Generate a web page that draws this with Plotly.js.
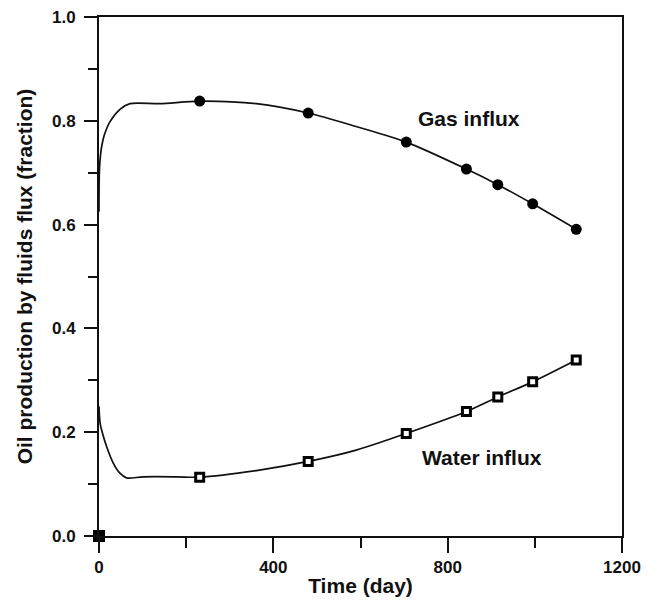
<!DOCTYPE html>
<html>
<head>
<meta charset="utf-8">
<script src="https://cdn.plot.ly/plotly-3.0.1.min.js"></script>
<style>html,body{margin:0;padding:0;background:#fff;}#chart{width:656px;height:602px;}</style>
</head>
<body>
<div id="chart"></div>
<script>
// Curve traces
var gasCurveX = [0, 0.5, 2, 6, 12, 25, 48, 71, 140, 231, 361, 480, 590, 705, 843, 915, 995, 1095];
var gasCurveY = [0.625, 0.69, 0.72, 0.75, 0.772, 0.798, 0.822, 0.833, 0.833, 0.838, 0.833, 0.815, 0.789, 0.759, 0.707, 0.677, 0.640, 0.591];
var waterCurveX = [0, 1, 3, 8, 17.6, 33, 48, 63, 101, 178, 231, 368, 480, 590, 705, 843, 915, 995, 1095];
var waterCurveY = [0.25, 0.232, 0.215, 0.198, 0.172, 0.140, 0.121, 0.112, 0.114, 0.114, 0.1134, 0.127, 0.1437, 0.1655, 0.1977, 0.240, 0.268, 0.297, 0.339];
// Marker points
var gasPtsX = [231, 480, 705, 843, 915, 995, 1095];
var gasPtsY = [0.838, 0.815, 0.759, 0.707, 0.677, 0.640, 0.591];
var waterPtsX = [231, 480, 705, 843, 915, 995, 1095];
var waterPtsY = [0.1134, 0.1437, 0.1977, 0.240, 0.268, 0.297, 0.339];
var originX = [0];
var originY = [0];
var xTickVals = [0, 400, 800, 1200];
var yTickVals = [0, 0.2, 0.4, 0.6, 0.8, 1.0];
var labels = ["Gas influx", "Water influx"];
var labelX = [849, 878];
var labelY = [0.804, 0.151];

var FONT = "Liberation Sans, Arial, sans-serif";
var traces = [
  {x: gasCurveX, y: gasCurveY, mode: "lines", line: {color: "#111", width: 1.7, shape: "spline", smoothing: 0.8}, hoverinfo: "skip", cliponaxis: false},
  {x: waterCurveX, y: waterCurveY, mode: "lines", line: {color: "#111", width: 1.7, shape: "spline", smoothing: 0.8}, hoverinfo: "skip", cliponaxis: false},
  {x: gasPtsX, y: gasPtsY, mode: "markers", marker: {symbol: "circle", size: 11, color: "#000"}},
  {x: waterPtsX, y: waterPtsY, mode: "markers", marker: {symbol: "square", size: 8, color: "#fff", line: {color: "#000", width: 3}}},
  {x: originX, y: originY, mode: "markers", marker: {symbol: "square", size: 12, color: "#000"}, cliponaxis: false}
];

var annotations = labels.map(function(t, i){
  return {x: labelX[i], y: labelY[i], xref: "x", yref: "y", text: t, showarrow: false,
          font: {family: FONT, size: 21, color: "#111", weight: 700}};
});

var layout = {
  width: 656, height: 602,
  margin: {l: 99, r: 34, t: 17, b: 66},
  paper_bgcolor: "#fff", plot_bgcolor: "#fff",
  showlegend: false,
  font: {family: FONT, color: "#111"},
  xaxis: {
    range: [0, 1200], tickvals: xTickVals, ticktext: xTickVals.map(String),
    ticks: "outside", ticklen: 15, tickwidth: 2, tickcolor: "#111",
    minor: {dtick: 200, tick0: 0, ticks: "outside", ticklen: 10, tickwidth: 2, tickcolor: "#111", showgrid: false},
    showline: true, linecolor: "#111", linewidth: 2, mirror: true,
    showgrid: false, zeroline: false,
    tickfont: {family: FONT, size: 17, color: "#111", weight: 700},
    title: {text: "Time (day)", standoff: 2, font: {family: FONT, size: 21, color: "#111", weight: 700}}
  },
  yaxis: {
    range: [0, 1], tickvals: yTickVals, ticktext: yTickVals.map(function(v){return v.toFixed(1);}),
    ticks: "outside", ticklen: 13, tickwidth: 2, tickcolor: "#111",
    ticklabelstandoff: 5,
    minor: {dtick: 0.1, tick0: 0, ticks: "outside", ticklen: 9, tickwidth: 2, tickcolor: "#111", showgrid: false},
    showline: true, linecolor: "#111", linewidth: 2, mirror: true,
    showgrid: false, zeroline: false,
    tickfont: {family: FONT, size: 17, color: "#111", weight: 700},
    title: {text: "Oil production by fluids flux (fraction)", standoff: 14, font: {family: FONT, size: 21, color: "#111", weight: 700}}
  },
  annotations: annotations
};

Plotly.newPlot("chart", traces, layout, {displayModeBar: false, staticPlot: true});
</script>
</body>
</html>
